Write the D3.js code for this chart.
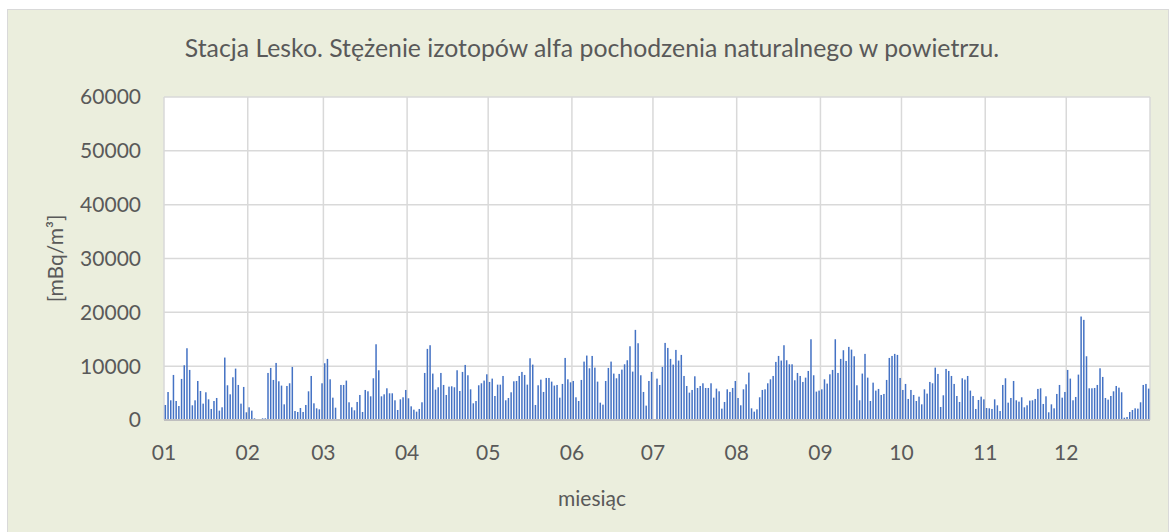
<!DOCTYPE html>
<html>
<head>
<meta charset="utf-8">
<script src="https://cdn.jsdelivr.net/npm/d3@7"></script>
<style>
  body { margin: 0; background: #ffffff; }
  text { font-family: Lato, "Open Sans", sans-serif; fill: #595959; }
</style>
</head>
<body>
<div id="chart"></div>
<script>
// daily values [mBq/m3], one array per month
var jan = [2790, 5200, 3660, 8370, 3530, 2600, 7630, 10170, 13330, 9300, 2730, 3660, 7250, 5390, 3040, 5150, 3840, 2050, 3530, 4090, 1740, 2360, 11600, 6450, 4770, 7940, 9550, 6510, 3040, 6140, 1430];
var feb = [2360, 1740, 310, 50, 100, 310, 310, 8740, 9670, 7440, 10600, 7190, 6390, 2910, 6320, 6820, 9860, 1670, 1490, 2230, 1490, 2790, 5330, 8180, 3100, 2170, 1980, 6820];
var mar = [10540, 11350, 7560, 4150, 2290, 0, 6510, 6510, 7320, 3290, 2360, 1800, 3350, 4650, 1490, 5580, 5330, 4400, 7750, 14070, 9240, 4400, 4770, 5890, 4960, 4960, 3660, 1860, 3840, 4220, 5580];
var apr = [4030, 2540, 1920, 1550, 2050, 3290, 8740, 13210, 13890, 8620, 5640, 6080, 8740, 6510, 4650, 6200, 6260, 6080, 9240, 5390, 8930, 10230, 8310, 5700, 3100, 3530, 6450, 6820, 7320, 8490];
var may = [7070, 7690, 4460, 6570, 6570, 8180, 3660, 4090, 5150, 7190, 7250, 8180, 8930, 8370, 6570, 11470, 10290, 2790, 6450, 7500, 5210, 7810, 7810, 7130, 6390, 6510, 4150, 6700, 11530, 7560, 7000];
var jun = [7250, 4220, 3530, 7440, 10850, 11970, 9610, 11900, 9730, 7130, 3220, 2850, 7250, 9670, 10850, 8620, 7750, 8560, 9360, 10350, 11100, 13700, 8990, 16740, 14260, 8310, 5210, 2670, 7250, 8930];
var jul = [0, 7690, 6510, 9860, 14320, 13390, 11350, 10290, 13020, 11040, 12090, 8180, 6320, 5080, 5580, 8120, 5950, 6320, 6820, 5950, 5950, 6820, 4150, 5830, 5330, 2110, 3350, 5700, 5210, 5950, 7250];
var aug = [4090, 2730, 5700, 6630, 8800, 2170, 1550, 1980, 4220, 5580, 5700, 6820, 7560, 8180, 10790, 11900, 11040, 13890, 11100, 10350, 10350, 7380, 8740, 8180, 7070, 7870, 9110, 15000, 8310, 5270, 5460];
var sep = [5700, 7560, 6760, 8490, 9300, 15000, 8740, 11350, 12960, 10970, 13580, 13080, 11840, 6450, 3660, 8620, 12280, 7870, 3530, 6940, 5460, 5770, 4650, 4840, 7440, 11530, 11900, 12280, 12090, 7810];
var oct = [5580, 6700, 3910, 5580, 4650, 3530, 4340, 2910, 5700, 4900, 7070, 6820, 9730, 8560, 2420, 4590, 9490, 9110, 8180, 6700, 4460, 3350, 7750, 7500, 8180, 5460, 4460, 2050, 3720, 4340, 3840];
var nov = [2230, 2170, 2050, 3840, 2730, 1670, 6510, 7750, 3220, 4090, 7250, 3660, 3410, 4220, 2360, 2730, 3600, 3660, 3910, 5770, 5890, 2980, 4400, 1430, 2910, 2170, 4840, 6510, 4150, 5210];
var dec = [9300, 7690, 3660, 4280, 8430, 19220, 18600, 11840, 5890, 5890, 5950, 6510, 9610, 8000, 4090, 3780, 4460, 5330, 6320, 6010, 5150, 430, 560, 1490, 1860, 2170, 2110, 3290, 6510, 6700, 5830];

var months = [jan, feb, mar, apr, may, jun, jul, aug, sep, oct, nov, dec];
var yTicks = [0, 10000, 20000, 30000, 40000, 50000, 60000];
var title = "Stacja Lesko. Stężenie izotopów alfa pochodzenia naturalnego w powietrzu.";
var xTitle = "miesiąc";
var yTitle = "[mBq/m³]";

var W = 1176, H = 532,
	plot = { left: 164, right: 1150, top: 97, bottom: 420 };

// flatten to one row per day (non leap year)
var data = [];
months.forEach(function(vals, m) {
	vals.forEach(function(v, d) {
		data.push({ date: new Date(2021, m, d + 1), value: v });
	});
});

var x = d3.scaleTime()
	.domain([new Date(2021, 0, 1), new Date(2022, 0, 1)])
	.range([plot.left, plot.right]);
var y = d3.scaleLinear().domain([0, 60000]).range([plot.bottom, plot.top]);

var svg = d3.select("#chart").append("svg")
	.attr("width", W)
	.attr("height", H);

// chart area (runs past the bottom edge of the picture)
svg.append("rect")
	.attr("x", 7.5).attr("y", 9.5)
	.attr("width", 1161).attr("height", 540)
	.attr("fill", "#ebeedd")
	.attr("stroke", "#d9d9d9");

svg.append("rect")
	.attr("x", plot.left).attr("y", plot.top)
	.attr("width", plot.right - plot.left).attr("height", plot.bottom - plot.top)
	.attr("fill", "#ffffff");

// grid
var monthStarts = d3.timeMonth.range(new Date(2021, 0, 1), new Date(2022, 0, 1));
svg.append("g").selectAll("line.hgrid")
	.data(yTicks)
	.enter().append("line")
	.attr("x1", plot.left).attr("x2", plot.right)
	.attr("y1", function(d) { return y(d); })
	.attr("y2", function(d) { return y(d); })
	.attr("stroke", "#d9d9d9")
	.attr("stroke-width", 1.5);
svg.append("g").selectAll("line.vgrid")
	.data(monthStarts.concat([new Date(2022, 0, 1)]))
	.enter().append("line")
	.attr("x1", function(d) { return x(d); })
	.attr("x2", function(d) { return x(d); })
	.attr("y1", plot.top).attr("y2", plot.bottom)
	.attr("stroke", "#d9d9d9")
	.attr("stroke-width", 1.5);

// bars, centred on the day
svg.append("g").selectAll("rect")
	.data(data)
	.enter().append("rect")
	.attr("x", function(d) { return x(d3.timeHour.offset(d.date, 12)) - 0.75; })
	.attr("y", function(d) { return y(d.value); })
	.attr("width", 1.5)
	.attr("height", function(d) { return y(0) - y(d.value); })
	.attr("fill", "#4472c4");

// x axis line
svg.append("line")
	.attr("x1", plot.left).attr("x2", plot.right)
	.attr("y1", plot.bottom).attr("y2", plot.bottom)
	.attr("stroke", "#bfbfbf")
	.attr("stroke-width", 2);

// tick labels
svg.append("g").selectAll("text")
	.data(yTicks)
	.enter().append("text")
	.attr("x", 141)
	.attr("y", function(d) { return y(d); })
	.attr("dy", "0.35em")
	.attr("text-anchor", "end")
	.style("font-size", "21px")
	.text(function(d) { return d; });

svg.append("g").selectAll("text")
	.data(monthStarts)
	.enter().append("text")
	.attr("x", function(d) { return x(d); })
	.attr("y", 460)
	.attr("text-anchor", "middle")
	.style("font-size", "21px")
	.text(d3.timeFormat("%m"));

// titles
svg.append("text")
	.attr("x", 592).attr("y", 57)
	.attr("text-anchor", "middle")
	.style("font-size", "24.8px")
	.text(title);

svg.append("text")
	.attr("x", 592).attr("y", 506)
	.attr("text-anchor", "middle")
	.style("font-size", "21px")
	.text(xTitle);

svg.append("text")
	.attr("transform", "translate(63," + ((plot.top + plot.bottom) / 2) + ") rotate(-90)")
	.attr("text-anchor", "middle")
	.style("font-size", "21px")
	.text(yTitle);
</script>
</body>
</html>
